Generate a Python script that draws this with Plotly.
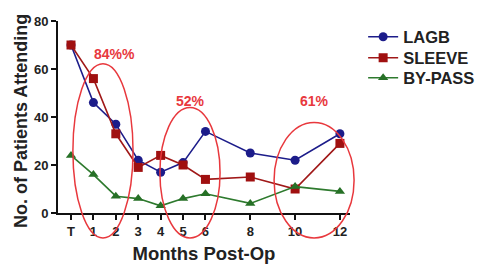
import plotly.graph_objects as go

months = [0, 1, 2, 3, 4, 5, 6, 8, 10, 12]
tick_labels = ["T", "1", "2", "3", "4", "5", "6", "8", "10", "12"]
lagb = [70, 46, 37, 22, 17, 21, 34, 25, 22, 33]
sleeve = [70, 56, 33, 19, 24, 20, 14, 15, 10, 29]
bypass = [24, 16, 7, 6, 3, 6, 8, 4, 11, 9]
y_ticks = [0, 20, 40, 60, 80]
circle_labels = ["84%%", "52%", "61%"]

FONT = "Liberation Sans, Arial, sans-serif"
RED = "#e8383d"
LEG_FONT = dict(family=FONT, size=16.5, color="#222222", weight="bold")

fig = go.Figure()
fig.add_trace(go.Scatter(x=months, y=lagb, name="LAGB", mode="lines+markers", legend="legend",
                         line=dict(color="#1c1c8a", width=1.6),
                         marker=dict(symbol="circle", size=9, color="#1c1c8a")))
fig.add_trace(go.Scatter(x=months, y=sleeve, name="SLEEVE", mode="lines+markers", legend="legend2",
                         line=dict(color="#a01818", width=1.6),
                         marker=dict(symbol="square", size=9, color="#a01010")))
fig.add_trace(go.Scatter(x=months, y=bypass, name="BY-PASS", mode="lines+markers", legend="legend3",
                         line=dict(color="#2e7a2e", width=1.6),
                         marker=dict(symbol="triangle-up", size=9, color="#267026")))

# ellipses (paper coords)
ellipses = [(0.051, 0.257, -0.13, 0.777), (0.349, 0.555, -0.13, 0.549), (0.740, 1.014, -0.13, 0.472)]
for (x0, x1, y0, y1) in ellipses:
    fig.add_shape(type="circle", xref="paper", yref="paper", x0=x0, x1=x1, y0=y0, y1=y1,
                  line=dict(color=RED, width=1.5), layer="above")

label_pos = [(0.195, 0.83), (0.455, 0.585), (0.88, 0.585)]
for txt, (lx, ly) in zip(circle_labels, label_pos):
    fig.add_annotation(text=txt, xref="paper", yref="paper", x=lx, y=ly, showarrow=False,
                       xanchor="center", yanchor="middle",
                       font=dict(family=FONT, size=14, color=RED, weight="bold"))

# y-axis title
fig.add_annotation(text="No. of Patients Attending", xref="paper", yref="paper",
                   x=-0.126, y=0.48, textangle=-90, showarrow=False,
                   xanchor="center", yanchor="middle",
                   font=dict(family=FONT, size=18, color="#222", weight="bold"))

def leg(y):
    return dict(x=1.045, y=y, xanchor="left", yanchor="middle", font=LEG_FONT,
                bgcolor="rgba(0,0,0,0)", itemwidth=30)

fig.update_layout(
    width=485, height=266,
    margin=dict(l=50, r=143, t=12, b=61),
    paper_bgcolor="white", plot_bgcolor="white",
    font=dict(family=FONT, color="#222222"),
    showlegend=True,
    legend=leg(0.912), legend2=leg(0.803), legend3=leg(0.699),
)
fig.update_xaxes(range=[-0.58, 12.45], tickvals=months, ticktext=tick_labels, automargin=False,
                 showgrid=False, zeroline=False, showline=True, linecolor="#111", linewidth=2,
                 ticks="outside", ticklen=5, tickwidth=2, tickcolor="#111",
                 tickfont=dict(family=FONT, size=13, color="#222", weight="bold"),
                 title=dict(text="Months Post-Op", standoff=9,
                            font=dict(family=FONT, size=18.5, color="#222", weight="bold")))
fig.update_yaxes(range=[0, 80], tickvals=y_ticks, automargin=False,
                 showgrid=False, zeroline=False, showline=True, linecolor="#111", linewidth=2,
                 ticks="outside", ticklen=5, tickwidth=2, tickcolor="#111",
                 tickfont=dict(family=FONT, size=13, color="#222", weight="bold"))

fig.write_html("out.html")
